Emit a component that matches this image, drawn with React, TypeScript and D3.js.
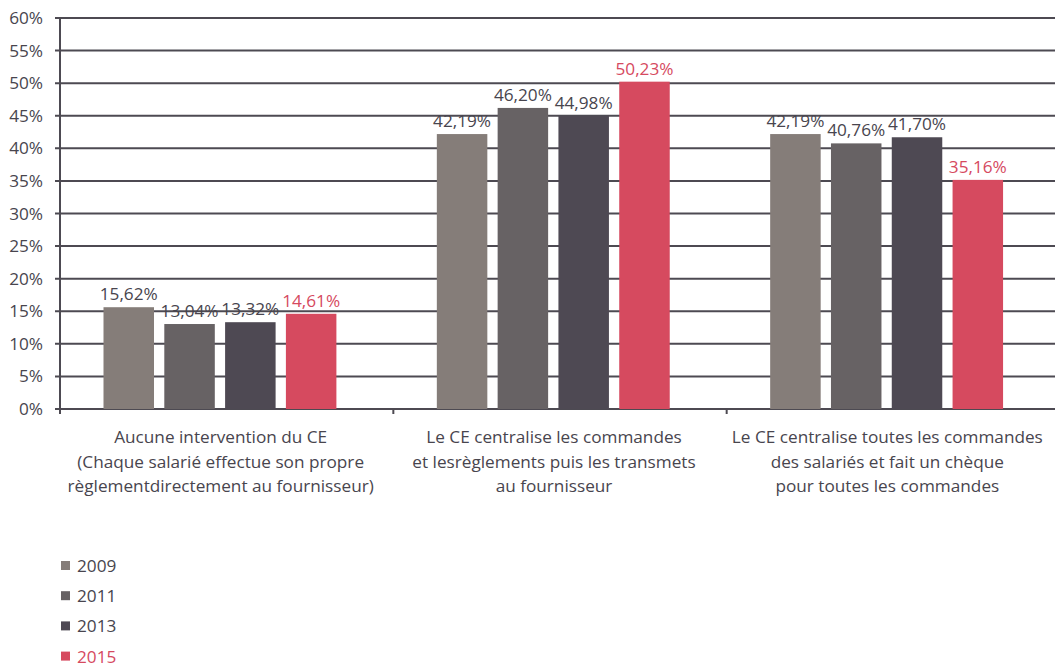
import React from "react";
import * as d3 from "d3";

const categories = [
  ["Aucune intervention du CE", "(Chaque salarié effectue son propre", "règlementdirectement au fournisseur)"],
  ["Le CE centralise les commandes", "et lesrèglements puis les transmets", "au fournisseur"],
  ["Le CE centralise toutes les commandes", "des salariés et fait un chèque", "pour toutes les commandes"],
];
const years = ["2009", "2011", "2013", "2015"];
const v2009 = [15.62, 42.19, 42.19];
const v2011 = [13.04, 46.2, 40.76];
const v2013 = [13.32, 44.98, 41.7];
const v2015 = [14.61, 50.23, 35.16];
const series = [v2009, v2011, v2013, v2015];
const colors = ["#857d79", "#676264", "#4e4953", "#d64a5f"];
const labelColors = ["#48454e", "#48454e", "#48454e", "#d64a5f"];
const yTicks = [0, 5, 10, 15, 20, 25, 30, 35, 40, 45, 50, 55, 60];

const W = 1055, H = 668;
const left = 60, right = 1060, top = 18, bottom = 409;
const font = "'Open Sans', sans-serif";
const axisColor = "#4d4a52";
const fs = 17.2;

export default function App() {
  const y = d3.scaleLinear().domain([0, 60]).range([bottom, top]);
  const x0 = d3.scaleBand<number>().domain([0, 1, 2]).range([left, right]);
  const x1 = d3.scaleBand<number>().domain([0, 1, 2, 3]).range([43.5, 43.5 + 3 * 60.8 + 50.5]).paddingInner(10.3 / 60.8).paddingOuter(0);
  const fmt = (v: number) => v.toFixed(2).replace(".", ",") + "%";
  return (
    <svg width={W} height={H} style={{ position: "absolute", left: 0, top: 0 }}>
      <rect width={W} height={H} fill="#fff" />
      {yTicks.map((t) => (
        <g key={t}>
          <line x1={55} x2={W} y1={y(t)} y2={y(t)} stroke={axisColor} strokeWidth={2} />
          <text x={43} y={y(t)} dy="0.35em" textAnchor="end" fontFamily={font} fontSize={fs} fill="#48454e">
            {t}%
          </text>
        </g>
      ))}
      <line x1={left} x2={left} y1={top - 1} y2={bottom + 5} stroke={axisColor} strokeWidth={2} />
      {[0, 1, 2].map((i) => (
        <line key={i} x1={x0(i)!} x2={x0(i)!} y1={bottom} y2={bottom + 5} stroke={axisColor} strokeWidth={2} />
      ))}
      {categories.map((lines, ci) => (
        <g key={ci}>
          {series.map((s, si) => {
            const bx = x0(ci)! + x1(si)!;
            const bw = x1.bandwidth();
            return (
              <g key={si}>
                <rect x={bx} y={y(s[ci])} width={bw} height={bottom - y(s[ci])} fill={colors[si]} />
                <text x={bx + bw / 2} y={y(s[ci]) - 7} textAnchor="middle" fontFamily={font} fontSize={fs} fill={labelColors[si]}>
                  {fmt(s[ci])}
                </text>
              </g>
            );
          })}
          {lines.map((l, li) => (
            <text key={li} x={x0(ci)! + x0.bandwidth() / 2 - 6} y={443 + li * 24.5} textAnchor="middle" fontFamily={font} fontSize={fs} fill="#48454e">
              {l}
            </text>
          ))}
        </g>
      ))}
      {years.map((yr, i) => (
        <g key={yr} transform={`translate(61, ${566 + i * 30.2})`}>
          <rect x={0} y={-5} width={9} height={9} fill={colors[i]} />
          <text x={16} y={0} dy="0.35em" fontFamily={font} fontSize={fs} fill={labelColors[i]}>
            {yr}
          </text>
        </g>
      ))}
    </svg>
  );
}
